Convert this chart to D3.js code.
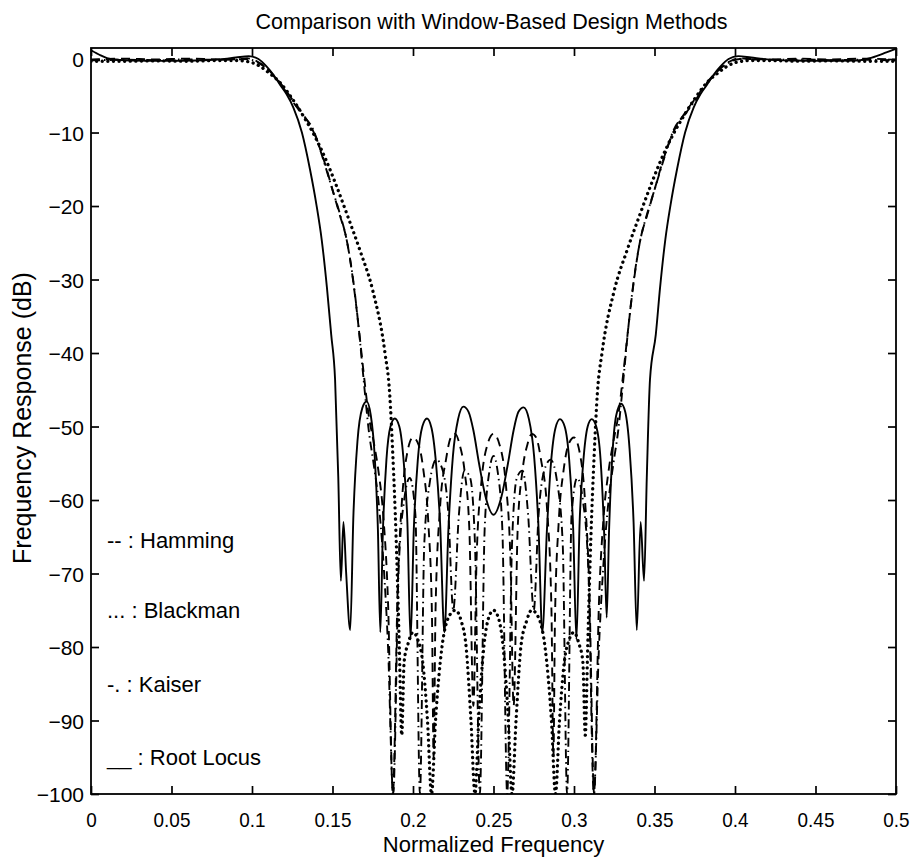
<!DOCTYPE html>
<html>
<head>
<meta charset="utf-8">
<script src="https://cdn.jsdelivr.net/npm/d3@7"></script>
<style>
  body { margin: 0; background: #fff; }
  svg { display: block; }
  text { font-family: "Liberation Sans", Arial, Helvetica, sans-serif; fill: #000; }
</style>
</head>
<body>
<script>
// frequency grid ticks
var xTicks = [0, 0.05, 0.1, 0.15, 0.2, 0.25, 0.3, 0.35, 0.4, 0.45, 0.5];
var yTicks = [0, -10, -20, -30, -40, -50, -60, -70, -80, -90, -100];

// Root Locus (solid)
var rootF = [0, 0.006, 0.012, 0.025, 0.045, 0.065, 0.08, 0.09, 0.098, 0.104, 0.109, 0.1135, 0.1174, 0.1215, 0.1257, 0.131, 0.136, 0.140, 0.1433, 0.1465, 0.1492, 0.1516, 0.1536, 0.1552, 0.1568, 0.1585, 0.161, 0.163, 0.1655, 0.1685, 0.1712, 0.1738, 0.1762, 0.1782, 0.1797, 0.1812, 0.1835, 0.186, 0.1887, 0.1915, 0.1943, 0.1965, 0.1985, 0.2005, 0.203, 0.2058, 0.2087, 0.2115, 0.2143, 0.2168, 0.2195, 0.222, 0.2248, 0.228, 0.2313, 0.2345, 0.2375, 0.241, 0.245, 0.25,
             0.255, 0.259, 0.2625, 0.2655, 0.2687, 0.272, 0.2752, 0.278, 0.2803, 0.2832, 0.2857, 0.2885, 0.2913, 0.2942, 0.297, 0.2995, 0.3015, 0.3035, 0.3057, 0.3085, 0.311, 0.3138, 0.3165, 0.3188, 0.3203, 0.3218, 0.3238, 0.3262, 0.3293, 0.3318, 0.3345, 0.337, 0.339, 0.3414, 0.3435, 0.3452, 0.3472, 0.3508, 0.3535, 0.3567, 0.36, 0.364, 0.369, 0.3743, 0.3785, 0.3826, 0.3865, 0.391, 0.396, 0.402, 0.41, 0.42, 0.435, 0.455, 0.475, 0.485, 0.494, 0.5];
var rootDb = [1.2, 0.5, 0, -0.2, -0.25, -0.2, -0.05, 0.2, 0.4, 0, -1, -2.2, -3.5, -4.8, -6.6, -10, -15, -19.8, -24.6, -31, -37.5, -43.6, -57, -71, -63, -70, -77.7, -62, -52, -47.5, -46.6, -48.5, -54, -64, -78, -65, -54.5, -50, -48.9, -50, -55, -63, -79, -64, -54.5, -50, -48.9, -50.2, -55, -63, -78, -64, -54, -49, -47.3, -48, -50.5, -55, -59.5, -62,
              -59.5, -55, -50.5, -48, -47.4, -49, -54, -64, -78, -64, -55, -50.2, -49, -50, -54.5, -64, -79, -63, -55, -50, -49, -50, -54.5, -65, -76, -64, -54, -48.5, -46.9, -48, -53, -63, -77.7, -63, -71, -57, -43.6, -37.5, -31, -24.6, -19.8, -15, -10, -6.6, -4.8, -3.5, -2.2, -1, 0, 0.4, 0.2, -0.05, -0.2, -0.25, -0.2, 0.2, 0.9, 1.4];

// Hamming (dashed)
var hammF = [0, 0.02, 0.04, 0.06, 0.08, 0.09, 0.097, 0.103, 0.108, 0.1125, 0.1174, 0.124, 0.131, 0.138, 0.145, 0.15, 0.1545, 0.1588, 0.163, 0.1665, 0.1695, 0.1725, 0.1755, 0.1785, 0.1815, 0.1845, 0.1875, 0.1905, 0.1935, 0.1965, 0.2, 0.2035, 0.2065, 0.2095, 0.2118, 0.2128, 0.214, 0.2168, 0.2205, 0.2235, 0.2262, 0.229, 0.232, 0.235, 0.2375, 0.2395, 0.2425, 0.2462, 0.25,
             0.2538, 0.2575, 0.2605, 0.2625, 0.265, 0.268, 0.271, 0.2738, 0.2765, 0.2795, 0.2832, 0.286, 0.2872, 0.2882, 0.2905, 0.2935, 0.2965, 0.3, 0.3035, 0.3065, 0.3095, 0.3125, 0.3155, 0.3185, 0.3215, 0.3245, 0.3275, 0.3305, 0.3335, 0.337, 0.3412, 0.3455, 0.35, 0.355, 0.362, 0.369, 0.376, 0.3826, 0.3875, 0.392, 0.397, 0.403, 0.41, 0.42, 0.44, 0.46, 0.48, 0.5];
var hammDb = [-0.1, 0.05, -0.05, 0.05, -0.05, 0, 0.1, -0.3, -1, -2, -3.2, -5.2, -7.3, -9.8, -14, -17.8, -21.2, -24.6, -30.5, -37, -43, -48.5, -52, -56, -62, -74, -100, -72, -59, -53.5, -51.5, -52.5, -56, -63, -76, -95, -75, -61, -54.5, -51.5, -51, -52.5, -56, -64, -88, -68, -57.5, -52.5, -51,
              -52.5, -57.5, -68, -88, -64, -56, -52.5, -51, -51.5, -54.5, -61, -75, -95, -76, -63, -56, -52.5, -51.5, -53.5, -59, -72, -100, -74, -62, -56, -52, -48.5, -43, -37, -30.5, -24.6, -21.2, -17.8, -14, -9.8, -7.3, -5.2, -3.2, -2, -1, -0.3, 0.1, 0, -0.05, 0.05, -0.05, 0.05, -0.1];

// Kaiser (dash-dot)
var kaisF = [0, 0.02, 0.04, 0.06, 0.08, 0.09, 0.097, 0.103, 0.108, 0.1125, 0.1174, 0.124, 0.131, 0.138, 0.144, 0.15, 0.1545, 0.1588, 0.1625, 0.166, 0.1695, 0.1725, 0.1755, 0.1785, 0.1815, 0.1845, 0.1877, 0.191, 0.1945, 0.198, 0.2015, 0.2043, 0.207, 0.2105, 0.2145, 0.2185, 0.222, 0.225, 0.2285, 0.232, 0.2355, 0.2385, 0.2415, 0.2445, 0.2475, 0.25,
             0.2525, 0.2555, 0.2585, 0.2615, 0.2645, 0.268, 0.2715, 0.275, 0.278, 0.2815, 0.2855, 0.2895, 0.293, 0.2957, 0.2985, 0.302, 0.3055, 0.309, 0.3123, 0.3155, 0.3185, 0.3215, 0.3245, 0.3275, 0.3305, 0.334, 0.3375, 0.3412, 0.3455, 0.35, 0.356, 0.362, 0.369, 0.376, 0.3826, 0.3875, 0.392, 0.397, 0.403, 0.41, 0.42, 0.44, 0.46, 0.48, 0.5];
var kaisDb = [-0.2, -0.1, -0.15, -0.05, -0.1, -0.05, 0, -0.4, -1.1, -2.1, -3.3, -5.4, -7.5, -9.6, -13.5, -17.8, -21, -24.6, -29.5, -36, -44, -50.5, -55, -60, -68, -80, -100, -70, -60, -57, -62, -100, -66, -57.5, -54.5, -56, -62, -75, -62, -56, -57, -66, -100, -64, -56, -54,
              -56, -64, -100, -66, -57, -56, -62, -75, -62, -56, -54.5, -57.5, -66, -100, -62, -57, -60, -70, -100, -80, -68, -60, -55, -50.5, -44, -36, -29.5, -24.6, -21, -17.8, -13.5, -9.6, -7.5, -5.4, -3.3, -2.1, -1.1, -0.4, 0, -0.05, -0.1, -0.05, -0.15, -0.1, -0.2];

// Blackman (dotted)
var blackF = [0, 0.02, 0.04, 0.06, 0.08, 0.09, 0.1, 0.105, 0.11, 0.1174, 0.125, 0.132, 0.139, 0.1455, 0.152, 0.1588, 0.167, 0.175, 0.1826, 0.1855, 0.1875, 0.1895, 0.1915, 0.193, 0.1945, 0.197, 0.2, 0.203, 0.206, 0.209, 0.2115, 0.214, 0.218, 0.222, 0.2263, 0.23, 0.233, 0.236, 0.2385, 0.241, 0.244, 0.247, 0.25,
              0.253, 0.256, 0.259, 0.2615, 0.264, 0.267, 0.2705, 0.2737, 0.278, 0.282, 0.286, 0.2885, 0.291, 0.294, 0.297, 0.3, 0.303, 0.3055, 0.307, 0.3085, 0.3105, 0.3125, 0.3145, 0.3174, 0.325, 0.333, 0.3412, 0.348, 0.3545, 0.361, 0.368, 0.375, 0.3826, 0.39, 0.395, 0.4, 0.41, 0.42, 0.44, 0.46, 0.48, 0.5];
var blackDb = [-0.3, -0.3, -0.25, -0.3, -0.2, -0.2, -0.5, -1, -1.8, -3.2, -5.4, -7.8, -10.5, -13.5, -17, -21, -26, -31.5, -40, -45.5, -54, -65, -80, -92, -82, -79.5, -78, -79, -82, -90, -100, -90, -80, -76, -75, -76.5, -80, -90, -100, -89, -80, -76, -75,
               -76, -80, -89, -100, -90, -80, -76.5, -75, -76, -80, -90, -100, -90, -82, -79, -78, -79.5, -82, -92, -80, -65, -54, -45.5, -40, -31.5, -26, -21, -17, -13.5, -10.5, -7.8, -5.4, -3.2, -1.8, -1, -0.5, -0.2, -0.2, -0.3, -0.25, -0.3, -0.3];

var legendLabels = ["Hamming", "Blackman", "Kaiser", "Root Locus"];
var legendKeys = ["--", "...", "-.", "__"];

var width = 914, height = 861;
var margin = {left: 91, right: 18, top: 48, bottom: 67};

var x = d3.scaleLinear().domain([0, 0.5]).range([margin.left, width - margin.right]);
var y = d3.scaleLinear().domain([-100, 1.5]).range([height - margin.bottom, margin.top]);

var svg = d3.select("body").append("svg")
    .attr("width", width)
    .attr("height", height);

svg.append("defs").append("clipPath").attr("id", "plot")
    .append("rect")
    .attr("x", x(0)).attr("y", y(1.5))
    .attr("width", x(0.5) - x(0)).attr("height", y(-100) - y(1.5));

var series = [
    {f: hammF, db: hammDb, dash: "9,6", w: 1.9, cap: "butt"},
    {f: kaisF, db: kaisDb, dash: "9,4,1.5,4", w: 1.9, cap: "butt"},
    {f: blackF, db: blackDb, dash: "0.1,5.5", w: 3.3, cap: "round"},
    {f: rootF, db: rootDb, dash: null, w: 1.9, cap: "butt"}
];

var line = d3.line()
    .x(function (d) { return x(d[0]); })
    .y(function (d) { return y(d[1]); })
    .curve(d3.curveMonotoneX);

var curves = svg.append("g").attr("clip-path", "url(#plot)");
series.forEach(function (s) {
    var pts = s.f.map(function (f, i) { return [f, s.db[i]]; });
    curves.append("path")
        .datum(pts)
        .attr("d", line)
        .attr("fill", "none")
        .attr("stroke", "#000")
        .attr("stroke-width", s.w)
        .attr("stroke-linecap", s.cap)
        .attr("stroke-dasharray", s.dash);
});

// slightly narrower digits, like the printed figure
function squeeze(sel, k) {
    sel.each(function () {
        var w = this.getComputedTextLength();
        d3.select(this).attr("textLength", w * k).attr("lengthAdjust", "spacingAndGlyphs");
    });
}

var fmtY = function (d) { return String(d).replace("-", "\u2212"); };

// axes, ticks pointing inward on all four sides
var gx = svg.append("g")
    .attr("transform", "translate(0," + y(-100) + ")")
    .call(d3.axisBottom(x).tickValues(xTicks).tickFormat(String).tickSize(-8).tickPadding(18));
var gy = svg.append("g")
    .attr("transform", "translate(" + x(0) + ",0)")
    .call(d3.axisLeft(y).tickValues(yTicks).tickFormat(fmtY).tickSize(-8).tickPadding(7));
svg.append("g")
    .attr("transform", "translate(0," + y(1.5) + ")")
    .call(d3.axisTop(x).tickValues(xTicks).tickFormat("").tickSize(-8));
svg.append("g")
    .attr("transform", "translate(" + x(0.5) + ",0)")
    .call(d3.axisRight(y).tickValues(yTicks).tickFormat("").tickSize(-8));

svg.selectAll(".domain").remove();
svg.selectAll(".tick line").attr("stroke", "#000").attr("stroke-width", 1.7);
gx.selectAll("text").attr("font-size", 21).attr("font-family", null);
gy.selectAll("text").attr("font-size", 21).attr("font-family", null).attr("dy", "0.36em");
squeeze(gx.selectAll("text"), 0.9);

svg.append("rect")
    .attr("x", x(0)).attr("y", y(1.5))
    .attr("width", x(0.5) - x(0)).attr("height", y(-100) - y(1.5))
    .attr("fill", "none").attr("stroke", "#000").attr("stroke-width", 1.8);

// titles
svg.append("text")
    .attr("x", (x(0) + x(0.5)) / 2 - 2).attr("y", 29)
    .attr("text-anchor", "middle").attr("font-size", 21.5)
    .text("Comparison with Window-Based Design Methods");

svg.append("text")
    .attr("x", (x(0) + x(0.5)) / 2).attr("y", 852)
    .attr("text-anchor", "middle").attr("font-size", 22)
    .text("Normalized Frequency");

svg.append("text")
    .attr("transform", "translate(31," + 418 + ") rotate(-90)")
    .attr("text-anchor", "middle").attr("font-size", 25)
    .text("Frequency Response (dB)");

// legend written as text inside the axes
var legendY = [-65.5, -75, -85, -95];
var leg = svg.append("g").attr("font-size", 22);
legendLabels.forEach(function (lab, i) {
    leg.append("text")
        .attr("x", 107).attr("y", y(legendY[i]) + 8)
        .text(legendKeys[i] + " : " + lab);
});
</script>
</body>
</html>
